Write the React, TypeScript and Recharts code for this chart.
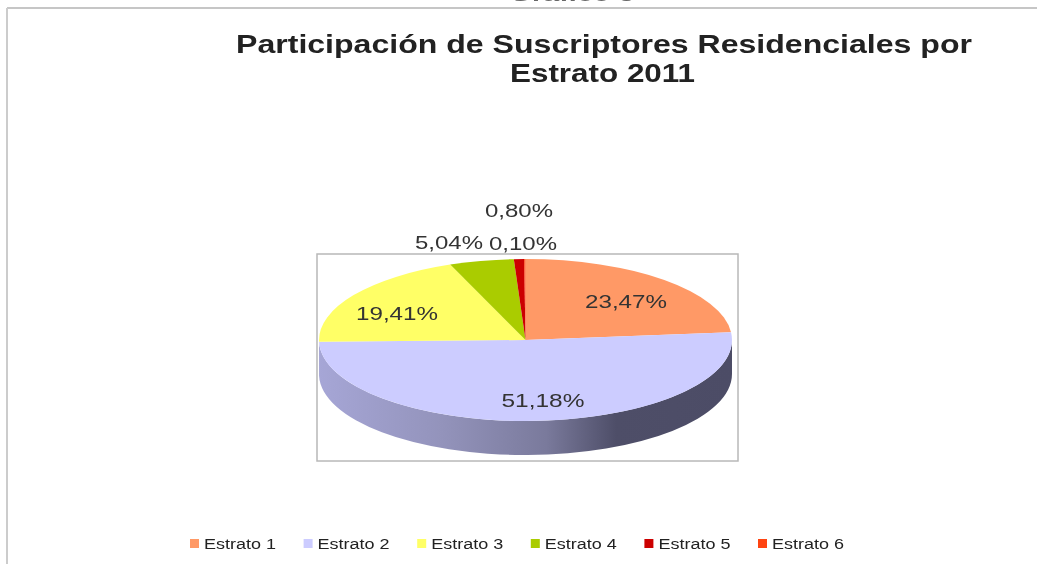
import { PieChart, Pie, Legend } from 'recharts'

const categories = ['Estrato 1', 'Estrato 2', 'Estrato 3', 'Estrato 4', 'Estrato 5', 'Estrato 6']
const shares = [23.47, 51.18, 19.41, 5.04, 0.8, 0.1]
const colors = ['#ff9966', '#ccccff', '#ffff66', '#aacc00', '#cc0000', '#ff4411']
const titleLines = ['Participación de Suscriptores Residenciales por', 'Estrato 2011']

const CX = 525.5
const CY = 340
const RX = 206.5
const RY = 81
const DEPTH = 34
const FONT = '"Liberation Sans", Arial, sans-serif'

// where each percentage sits, by slice index
const labelSpots = [
  { x: 626, y: 308, w: 82 },
  { x: 543, y: 407, w: 83 },
  { x: 397, y: 320, w: 82 },
  { x: 449, y: 249, w: 68 },
  { x: 519, y: 217, w: 68 },
  { x: 523, y: 250, w: 68 },
]

const data = categories.map((name, i) => ({ name, value: shares[i], fill: colors[i] }))

// recharts angle -> point on the squashed ellipse
function pt(angle: number, dy = 0) {
  const r = (angle * Math.PI) / 180
  return [CX + RX * Math.cos(r), CY - RY * Math.sin(r) + dy]
}

function TopSlice(props: any) {
  const { startAngle, endAngle, fill } = props
  const [x0, y0] = pt(startAngle)
  const [x1, y1] = pt(endAngle)
  const large = Math.abs(endAngle - startAngle) > 180 ? 1 : 0
  return <path d={`M${CX} ${CY}L${x0} ${y0}A${RX} ${RY} 0 ${large} 1 ${x1} ${y1}Z`} fill={fill} />
}

// only the front half of the rim is visible
function WallSlice(props: any) {
  const from = Math.max(90 - props.startAngle, 90)
  const to = Math.min(90 - props.endAngle, 270)
  if (from >= to) return null
  const [x0, y0] = pt(90 - from)
  const [x1, y1] = pt(90 - to)
  return (
    <path
      d={`M${x0} ${y0}A${RX} ${RY} 0 0 1 ${x1} ${y1}L${x1} ${y1 + DEPTH}A${RX} ${RY} 0 0 0 ${x0} ${y0 + DEPTH}Z`}
      fill="url(#wall)"
    />
  )
}

function renderLabel({ index, value }: any) {
  const spot = labelSpots[index]
  return (
    <text
      key={index}
      x={spot.x}
      y={spot.y}
      textAnchor="middle"
      fontFamily={FONT}
      fontSize={19}
      fill="#333333"
      textLength={spot.w}
      lengthAdjust="spacingAndGlyphs"
    >
      {value.toFixed(2).replace('.', ',')}%
    </text>
  )
}

function renderLegend({ payload }: any) {
  // the rim pie feeds the payload too, keep one entry per category
  const items = categories.map(name => (payload ?? []).find((p: any) => p.value === name)).filter(Boolean)
  return (
    <svg width={700} height={20} style={{ display: 'block' }}>
      {items.map((p: any, i: number) => (
        <g key={p.value} transform={`translate(${i * 113.6},0)`}>
          <rect x={0} y={5} width={9} height={9} fill={p.payload?.fill ?? p.color} />
          <text
            x={14}
            y={15}
            fontFamily={FONT}
            fontSize={14}
            fill="#222222"
            textLength={72}
            lengthAdjust="spacingAndGlyphs"
          >
            {p.value}
          </text>
        </g>
      ))}
    </svg>
  )
}

export default function App() {
  return (
    <div style={{ position: 'absolute', left: 0, top: 0, width: 1037, height: 564, background: '#fff', overflow: 'hidden', filter: 'blur(0.45px)' }}>
      <PieChart width={1037} height={564} margin={{ top: 0, right: 0, bottom: 0, left: 0 }}>
        <defs>
          <linearGradient id="wall" gradientUnits="userSpaceOnUse" x1={319} y1={0} x2={732} y2={0}>
            <stop offset="0" stopColor="#a6a6d6" />
            <stop offset="0.3" stopColor="#9393bb" />
            <stop offset="0.55" stopColor="#7a7a9c" />
            <stop offset="0.72" stopColor="#4e4e68" />
            <stop offset="1" stopColor="#4c4c66" />
          </linearGradient>
        </defs>

        <line x1={7} y1={8} x2={1037} y2={8} stroke="#c6c6c6" strokeWidth={2} />
        <line x1={7} y1={8} x2={7} y2={564} stroke="#cccccc" strokeWidth={2} />
        <text x={572} y={1} textAnchor="middle" fontFamily={FONT} fontWeight="bold" fontSize={20} fill="#666666" textLength={125} lengthAdjust="spacingAndGlyphs">
          Gráfico 5
        </text>

        <text x={604} y={53} textAnchor="middle" fontFamily={FONT} fontWeight="bold" fontSize={25} fill="#222222" textLength={736} lengthAdjust="spacingAndGlyphs">
          {titleLines[0]}
        </text>
        <text x={602.5} y={82} textAnchor="middle" fontFamily={FONT} fontWeight="bold" fontSize={25} fill="#222222" textLength={185} lengthAdjust="spacingAndGlyphs">
          {titleLines[1]}
        </text>

        <rect x={317} y={254} width={421} height={207} fill="none" stroke="#b8b8b8" strokeWidth={1.5} />

        <Pie
          data={data}
          dataKey="value"
          cx={CX}
          cy={CY}
          outerRadius={RX}
          startAngle={90}
          endAngle={-270}
          stroke="none"
          legendType="none"
          shape={WallSlice}
          isAnimationActive={false}
        />
        <Pie
          data={data}
          dataKey="value"
          nameKey="name"
          cx={CX}
          cy={CY}
          outerRadius={RX}
          startAngle={90}
          endAngle={-270}
          stroke="none"
          shape={TopSlice}
          label={renderLabel}
          labelLine={false}
          isAnimationActive={false}
        />
        <Legend
          content={renderLegend}
          wrapperStyle={{ position: 'absolute', left: 190, top: 534, width: 700, height: 20 }}
        />
      </PieChart>
    </div>
  )
}
